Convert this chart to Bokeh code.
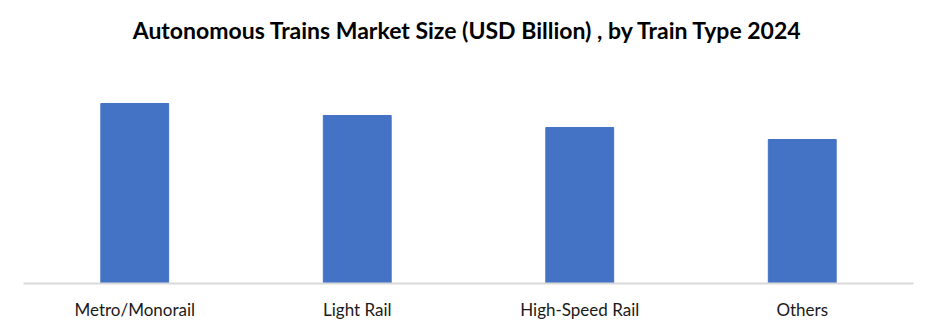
from bokeh.plotting import figure
from bokeh.models import Range1d, FactorRange, Label
from bokeh.embed import file_html
from bokeh.resources import INLINE

categories = ["Metro/Monorail", "Light Rail", "High-Speed Rail", "Others"]
values = [6.0, 5.6, 5.2, 4.8]
title_text = "Autonomous Trains Market Size (USD Billion) , by Train Type 2024"

p = figure(width=935, height=334, x_range=FactorRange(*categories, range_padding=0),
           y_range=Range1d(0, 9.433), output_backend="svg", toolbar_location=None,
           min_border_left=23, min_border_right=22,
           min_border_top=0, min_border_bottom=51)
p.vbar(x=categories, top=values, width=0.305, color="#4472C4")

title = Label(x=444.5, y=254, x_units="screen", y_units="screen", text=title_text,
              text_align="center", text_baseline="middle", text_font="Lato",
              text_font_size="23px", text_font_style="bold", text_color="#000000")
p.add_layout(title)

p.yaxis.visible = False
p.xgrid.visible = False
p.ygrid.visible = False
p.outline_line_color = None
p.xaxis.axis_line_color = "#d9d9d9"
p.xaxis.axis_line_width = 2
p.xaxis.major_tick_line_color = None
p.xaxis.minor_tick_line_color = None
p.xaxis.major_label_text_font = "Lato"
p.xaxis.major_label_text_font_size = "17px"
p.xaxis.major_label_text_color = "#1a1a1a"
p.xaxis.major_label_standoff = 9
p.x_range.range_padding = 0

open("out.html", "w").write(file_html(p, INLINE))
